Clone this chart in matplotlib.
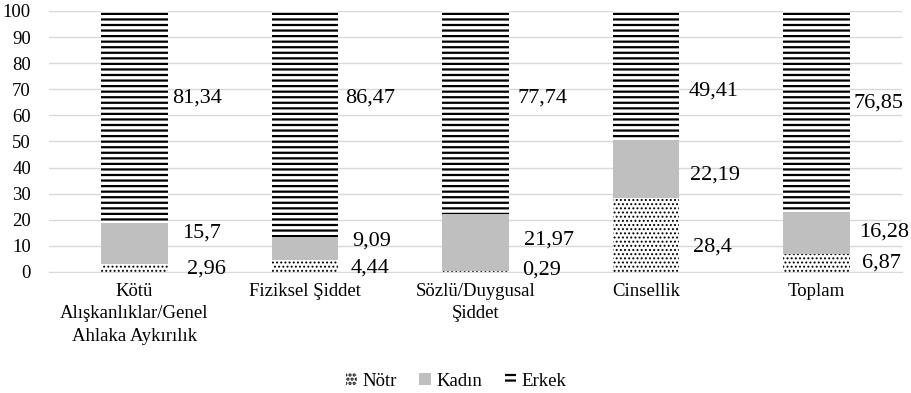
import matplotlib
matplotlib.use('Agg')
import matplotlib.pyplot as plt
import numpy as np

# veri
categories = ['Kötü\nAlışkanlıklar/Genel\nAhlaka Aykırılık', 'Fiziksel Şiddet',
              'Sözlü/Duygusal\nŞiddet', 'Cinsellik', 'Toplam']
notr = [2.96, 4.44, 0.29, 28.4, 6.87]
kadin = [15.7, 9.09, 21.97, 22.19, 16.28]
erkek = [81.34, 86.47, 77.74, 49.41, 76.85]
series_names = ['Nötr', 'Kadın', 'Erkek']

# etiket yerleri (grafikte elle kaydirilmis)
label_y = [[1.0, 14.9, 66.5], [1.4, 11.9, 66.7], [0.8, 12.3, 66.7],
           [9.6, 37.2, 69.3], [3.4, 15.3, 64.8]]
label_dx = [[19, 15, 5], [13, 14, 7], [14, 15, 9], [14, 11, 9], [12, 9, 4]]

plt.rcParams['font.family'] = ['Liberation Serif', 'DejaVu Serif']

fig = plt.figure(figsize=(9.12, 3.93), dpi=100)
ax = fig.add_axes([0.0537, 0.3079, 0.935, 0.6642])

x = np.arange(len(categories))
w = 0.39
plt.rcParams['hatch.linewidth'] = 0.9
b1 = ax.bar(x, notr, w, color='white', edgecolor='black', linewidth=0, hatch='....', label=series_names[0])
b2 = ax.bar(x, kadin, w, bottom=notr, color='#BFBFBF', linewidth=0, label=series_names[1])
bottom2 = np.array(notr) + np.array(kadin)
plt.rcParams['hatch.linewidth'] = 1.6
b3 = ax.bar(x, erkek, w, bottom=bottom2, color='white', edgecolor='black', linewidth=0, hatch='---', label=series_names[2])

for i in range(len(categories)):
    vals = [notr[i], kadin[i], erkek[i]]
    for j in range(3):
        txt = ('%g' % vals[j]).replace('.', ',')
        ax.annotate(txt, xy=(x[i] + w / 2, label_y[i][j]), xytext=(label_dx[i][j] * 0.72, 0),
                    textcoords='offset points', ha='left', va='center', fontsize=16)

ax.set_ylim(0, 100)
ax.set_xlim(-0.5, len(categories) - 0.5)
ax.set_yticks(range(0, 101, 10))
ax.yaxis.grid(True, color='#D9D9D9', linewidth=1)
ax.set_axisbelow(True)
for s in ['top', 'right', 'left']:
    ax.spines[s].set_visible(False)
ax.spines['bottom'].set_color('#D9D9D9')
ax.tick_params(axis='both', length=0, labelsize=13.5)
ax.tick_params(axis='y', pad=13)
ax.tick_params(axis='x', pad=8)
ax.set_xticks(x)
ax.set_xticklabels(categories, fontsize=13.5, linespacing=1.4)

fig.legend(handles=[b1, b2, b3], loc='center', bbox_to_anchor=(0.5, 0.03), ncol=3, frameon=False,
           fontsize=13.5, handlelength=0.6, handleheight=0.6, handletextpad=0.3, columnspacing=1.2)

fig.savefig('out.png', dpi=100)
